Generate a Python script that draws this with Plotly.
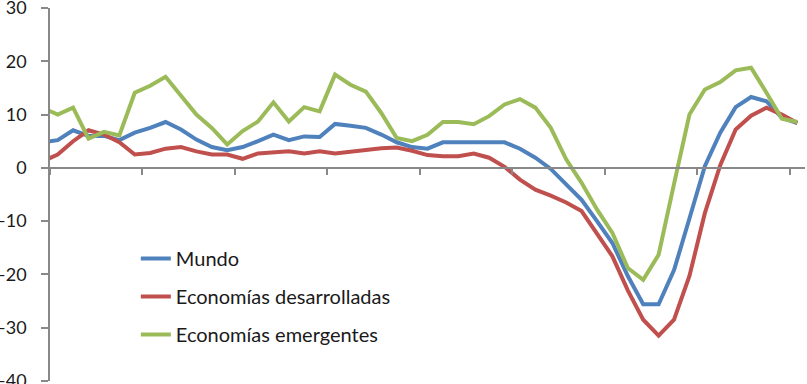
import plotly.graph_objects as go

# category index (monthly observations); index -1 lies just left of the axis and is clipped
periods = list(range(-1, 49))

mundo = [4.8, 5.2, 7.05, 6.0, 6.0, 5.2, 6.6, 7.5, 8.6, 7.2, 5.3,
         3.9, 3.3, 3.9, 5.0, 6.25, 5.2, 5.9, 5.8, 8.25, 7.9,
         7.5, 6.25, 4.8, 3.9, 3.6, 4.8, 4.8, 4.8, 4.8, 4.8,
         3.6, 1.9, -0.2, -3.1, -6.0, -10.0, -14.1, -20.3, -25.6, -25.6,
         -19.2, -9.5, 0.3, 6.6, 11.4, 13.3, 12.5, 9.4, 8.4]

desarrolladas = [1.2, 2.5, 5.0, 7.05, 6.25, 4.8, 2.5, 2.8, 3.6, 3.9, 3.1,
                 2.5, 2.5, 1.7, 2.7, 2.9, 3.1, 2.7, 3.1, 2.7, 3.0,
                 3.3, 3.7, 3.8, 3.2, 2.4, 2.2, 2.2, 2.7, 1.9, 0.2,
                 -2.2, -4.1, -5.2, -6.5, -8.1, -12.5, -16.6, -23.0, -28.5, -31.5,
                 -28.5, -20.3, -8.5, 0.5, 7.2, 9.8, 11.3, 10.0, 8.4]

emergentes = [11.3, 10.0, 11.3, 5.5, 6.75, 6.1, 14.1, 15.4, 17.1, 13.4, 10.0,
              7.5, 4.4, 6.9, 8.7, 12.3, 8.7, 11.4, 10.6, 17.5, 15.6,
              14.3, 10.3, 5.6, 5.0, 6.2, 8.6, 8.6, 8.2, 9.7, 11.9,
              12.9, 11.3, 7.5, 1.6, -2.8, -7.8, -12.2, -18.8, -21.0, -16.3,
              -3.0, 10.0, 14.7, 16.1, 18.3, 18.8, 14.1, 9.2, 8.6]

series = [
    ("Mundo", mundo, "#4F81BD"),
    ("Economías desarrolladas", desarrolladas, "#C0504D"),
    ("Economías emergentes", emergentes, "#9BBB59"),
]

y_ticks = [-40, -30, -20, -10, 0, 10, 20, 30]

fig = go.Figure()
for name, vals, color in series:
    fig.add_trace(go.Scatter(
        x=periods, y=vals, mode="lines", name=name, legendgroup=name,
        line=dict(color=color, width=4),
    ))

axis_gray = "#888888"
fig.update_layout(
    width=807, height=384,
    margin=dict(l=50, r=2, t=8, b=3, autoexpand=False),
    paper_bgcolor="white", plot_bgcolor="white",
    font=dict(family="Lato", size=20, color="#1a1a1a"),
    showlegend=True,
    legend=dict(
        x=0.1137, y=0.3806, xanchor="left", yanchor="top",
        bgcolor="rgba(0,0,0,0)", tracegroupgap=9,
        font=dict(family="Lato", size=20, color="#1a1a1a"),
    ),
    xaxis=dict(
        range=[-0.5, 48.5], anchor="free", position=40 / 70,
        showline=True, linecolor=axis_gray, linewidth=1.5,
        ticks="outside", tickcolor=axis_gray, ticklen=6, tickwidth=1.5,
        tick0=-0.5, dtick=6, showticklabels=False,
        showgrid=False, zeroline=False, automargin=False,
    ),
    yaxis=dict(
        range=[-40, 30], tickvals=y_ticks,
        showline=True, linecolor=axis_gray, linewidth=1.5,
        ticks="outside", tickcolor=axis_gray, ticklen=7, tickwidth=1.5,
        ticklabelstandoff=11, ticklabeloverflow="allow",
        tickfont=dict(family="Lato", size=18, color="#1a1a1a"),
        showgrid=False, zeroline=False, automargin=False,
    ),
)

fig.write_html("out.html")
